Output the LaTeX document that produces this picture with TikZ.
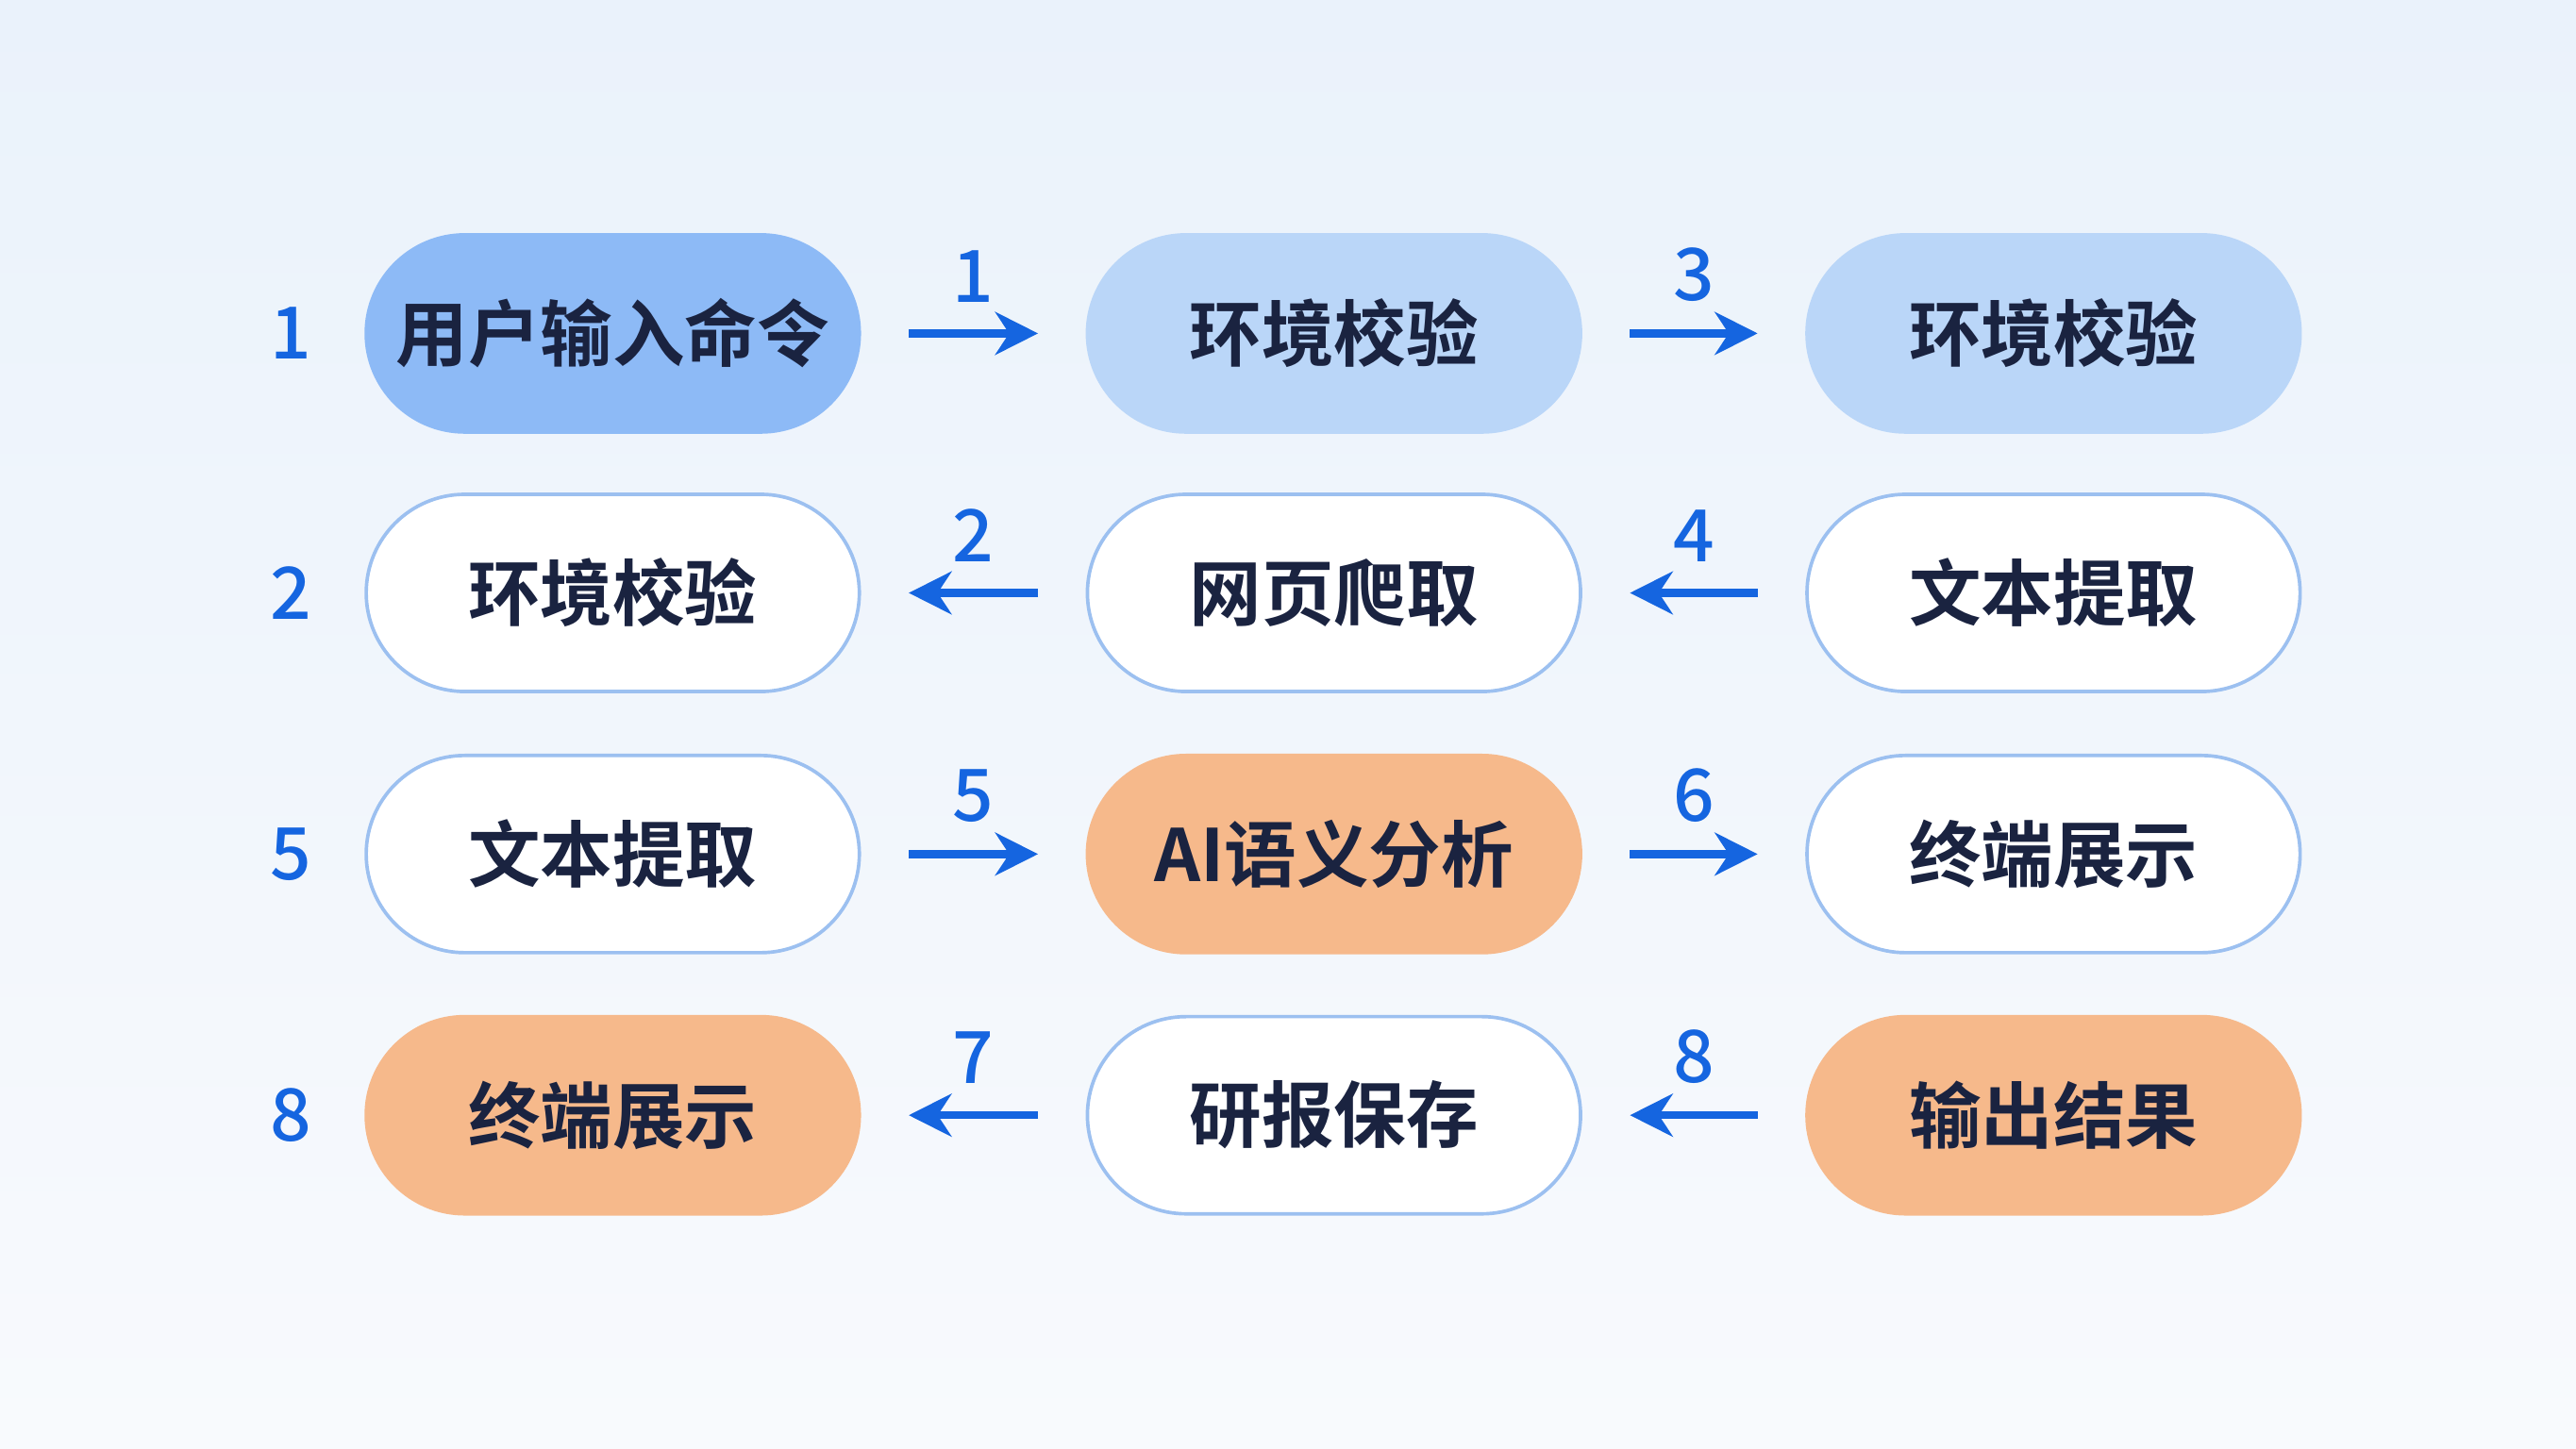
\documentclass[tikz,border=0pt]{standalone}
\usepackage{fontspec}
\newfontfamily\cjk{Noto Sans CJK SC Bold}
\newfontfamily\numfont{Noto Sans CJK SC Medium}
\usetikzlibrary{arrows.meta}
\definecolor{bgA}{HTML}{EAF2FB}
\definecolor{bgB}{HTML}{F8FAFD}
\definecolor{txt}{HTML}{1A2340}
\definecolor{num}{HTML}{1565E0}
\definecolor{bord}{HTML}{9CC0F0}
\definecolor{blueA}{HTML}{8DBAF6}
\definecolor{blueB}{HTML}{BAD6F8}
\definecolor{orng}{HTML}{F6B98B}
\tikzset{
 pill/.style={rounded corners=0.6cm, minimum width=3cm, minimum height=1.2cm, font=\cjk\fontsize{12.5}{14}\selectfont, text=txt, draw=bord, line width=0.6pt, fill=white},
 pdark/.style={pill, fill=blueA, draw=blueA},
 plight/.style={pill, fill=blueB, draw=blueB},
 porng/.style={pill, fill=orng, draw=orng},
 numl/.style={font=\numfont\fontsize{12.5}{14}\selectfont, text=num},
 arr/.style={-{Stealth[length=2.6mm,width=2.6mm]}, draw=num, line width=1.4pt},
 alab/.style={numl, above=0.5mm}
}
\begin{document}
\begin{tikzpicture}[x=0.01cm,y=-0.01cm]
\useasboundingbox (0,0) rectangle (1568,882);
\shade[top color=bgA, bottom color=bgB] (0,0) rectangle (1568,882);
\node[pdark] (a1) at (373,203) {用户输入命令};
\node[plight] (a2) at (812,203) {环境校验};
\node[plight] (a3) at (1250,203) {环境校验};
\node[pill] (b1) at (373,361) {环境校验};
\node[pill] (b2) at (812,361) {网页爬取};
\node[pill] (b3) at (1250,361) {文本提取};
\node[pill] (c1) at (373,520) {文本提取};
\node[porng] (c2) at (812,520) {AI语义分析};
\node[pill] (c3) at (1250,520) {终端展示};
\node[porng] (d1) at (373,679) {终端展示};
\node[pill] (d2) at (812,679) {研报保存};
\node[porng] (d3) at (1250,679) {输出结果};
\node[numl] (n1) at (177,203) {1};
\node[numl] (n2) at (177,361) {2};
\node[numl] (n3) at (177,520) {5};
\node[numl] (n4) at (177,679) {8};
\draw[arr] ([xshift=0.29cm]a1.east) -- node[alab]{1} ([xshift=-0.29cm]a2.west);
\draw[arr] ([xshift=0.29cm]a2.east) -- node[alab]{3} ([xshift=-0.29cm]a3.west);
\draw[arr] ([xshift=-0.29cm]b2.west) -- node[alab]{2} ([xshift=0.29cm]b1.east);
\draw[arr] ([xshift=-0.29cm]b3.west) -- node[alab]{4} ([xshift=0.29cm]b2.east);
\draw[arr] ([xshift=0.29cm]c1.east) -- node[alab]{5} ([xshift=-0.29cm]c2.west);
\draw[arr] ([xshift=0.29cm]c2.east) -- node[alab]{6} ([xshift=-0.29cm]c3.west);
\draw[arr] ([xshift=-0.29cm]d2.west) -- node[alab]{7} ([xshift=0.29cm]d1.east);
\draw[arr] ([xshift=-0.29cm]d3.west) -- node[alab]{8} ([xshift=0.29cm]d2.east);
\end{tikzpicture}
\end{document}
